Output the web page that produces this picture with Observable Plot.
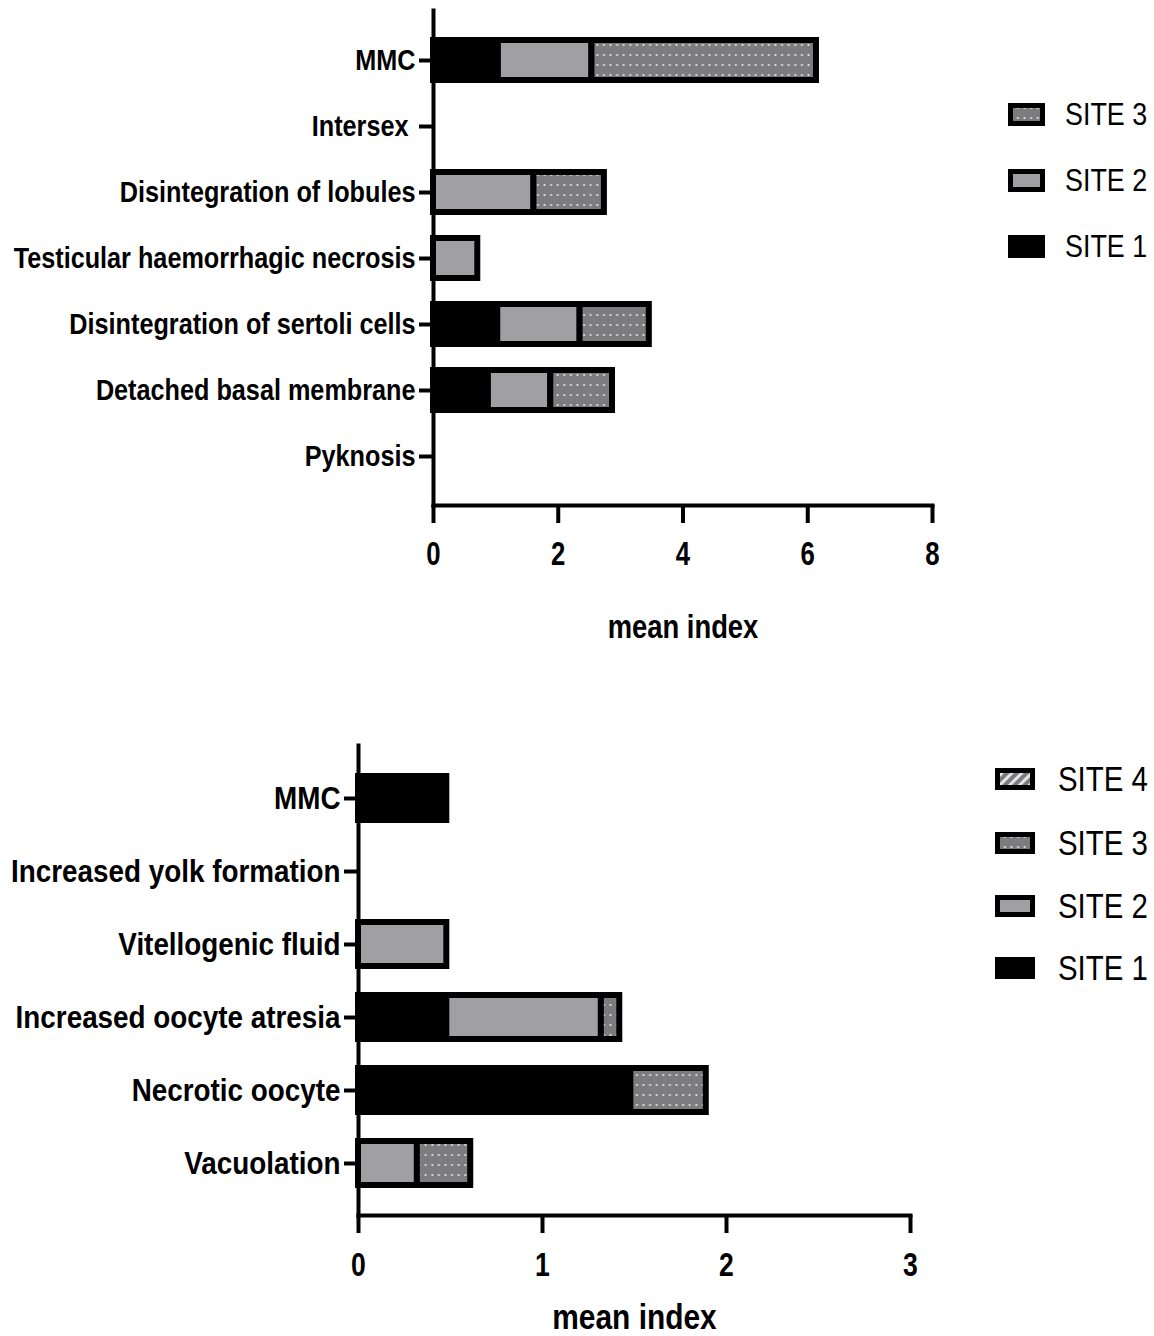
<!DOCTYPE html>
<html><head><meta charset="utf-8">
<script src="https://cdn.jsdelivr.net/npm/d3@7"></script>
<script src="https://cdn.jsdelivr.net/npm/@observablehq/plot@0.6"></script>
<style>
body{margin:0;background:#fff;}
#wrap{position:relative;width:1154px;height:1336px;overflow:hidden;font-family:"Liberation Sans",Arial,sans-serif;color:#000;}
.chart{position:absolute;left:0;}
.item{position:absolute;display:flex;align-items:center;height:40px;white-space:nowrap;}
.item span{display:inline-block;transform:scaleX(0.84);transform-origin:0 50%;}
</style></head><body><div id="wrap"></div>
<script>
// ---- data ----
const topCategories = ["MMC","Intersex","Disintegration of lobules","Testicular haemorrhagic necrosis","Disintegration of sertoli cells","Detached basal membrane","Pyknosis"];
const topSites = ["SITE 1","SITE 2","SITE 3"];
const topSite1 = [1.04, 0, 0, 0, 1.03, 0.88, 0];
const topSite2 = [1.50, 0, 1.61, 0.71, 1.32, 1.00, 0];
const topSite3 = [3.60, 0, 1.13, 0, 1.11, 0.99, 0];
const topTicks = [0, 2, 4, 6, 8];

const bottomCategories = ["MMC","Increased yolk formation","Vitellogenic fluid","Increased oocyte atresia","Necrotic oocyte","Vacuolation"];
const bottomSites = ["SITE 1","SITE 2","SITE 3","SITE 4"];
const bottomSite1 = [0.48, 0, 0, 0.48, 1.48, 0];
const bottomSite2 = [0, 0, 0.48, 0.84, 0, 0.32];
const bottomSite3 = [0, 0, 0, 0.10, 0.41, 0.29];
const bottomSite4 = [0, 0, 0, 0, 0, 0];
const bottomTicks = [0, 1, 2, 3];

const axisLabel = "mean index";

// ---- build tables ----
function table(cats, sites, series) {
  const rows = [];
  cats.forEach((c, i) => sites.forEach((s, j) => {
    const v = series[j][i];
    if (v > 0) rows.push({category: c, site: s, value: v});
  }));
  return rows;
}
const topData = table(topCategories, topSites, [topSite1, topSite2, topSite3]);
const bottomData = table(bottomCategories, bottomSites, [bottomSite1, bottomSite2, bottomSite3, bottomSite4]);

const FILLS = {"SITE 1": "#000000", "SITE 2": "#a0a0a3", "SITE 3": "url(#dots)", "SITE 4": "url(#hatch)"};

const wrap = document.getElementById("wrap");
wrap.insertAdjacentHTML("beforeend", `<svg width="0" height="0" style="position:absolute">
<defs>
<pattern id="dots" patternUnits="userSpaceOnUse" width="6.6" height="10">
<rect width="6.6" height="10" fill="#7c7c7e"/><circle cx="3.3" cy="5" r="1.1" fill="#e6e6e6"/></pattern>
<pattern id="hatch" patternUnits="userSpaceOnUse" width="7" height="7" patternTransform="rotate(45)">
<rect width="7" height="7" fill="#7c7c7e"/><rect width="3" height="7" fill="#e6e6e6"/></pattern>
</defs></svg>`);

// narrow the text horizontally (the original uses a condensed face)
function condense(svg, selector, s) {
  svg.querySelectorAll(selector).forEach(t => {
    const tr = t.getAttribute("transform");
    if (tr) t.setAttribute("transform", tr + ` scale(${s},1)`);
    else {
      const x = +(t.getAttribute("x") || 0);
      t.setAttribute("transform", `translate(${x},0) scale(${s},1) translate(${-x},0)`);
    }
  });
}

function chart({data, cats, sites, ticks, domain, top, height, marginTop, marginBottom, marginLeft, marginRight, labelOffset, yFont, xFont, labelFont, xPad}) {
  const p = Plot.plot({
    width: 1154, height, marginTop, marginBottom, marginLeft, marginRight,
    style: {fontFamily: "inherit", color: "#000", background: "transparent", overflow: "visible"},
    x: {domain, ticks},
    y: {domain: cats, padding: 0.4, label: null},
    color: {domain: sites, range: sites.map(s => FILLS[s])},
    marks: [
      Plot.barX(data, Plot.stackX({x: "value", y: "category", fill: "site", stroke: "#000", strokeWidth: 6, order: null})),
      Plot.axisY({tickSize: 14, tickPadding: 4, fontSize: yFont, fontWeight: "bold", strokeWidth: 4, label: null,
        tickFormat: d => d === "Intersex" ? "Intersex\u00a0" : d}),
      Plot.axisX({ticks, tickSize: 18, tickPadding: xPad, fontSize: xFont, fontWeight: "bold", strokeWidth: 4,
        tickFormat: d => String(d), label: null}),
      Plot.axisX({ticks: [], tickSize: 0, fontSize: labelFont, fontWeight: "bold",
        label: axisLabel, labelAnchor: "center", labelArrow: "none", labelOffset}),
      Plot.frame({anchor: "left", strokeWidth: 4}),
      Plot.frame({anchor: "bottom", strokeWidth: 4})
    ]
  });
  p.classList.add("chart");
  p.style.top = top + "px";
  wrap.appendChild(p);
  condense(p, 'g[aria-label="y-axis tick label"] text', 0.87);
  condense(p, 'g[aria-label="x-axis tick label"] text', 0.78);
  condense(p, 'g[aria-label="x-axis label"] text', 0.83);
}

chart({data: topData, cats: topCategories, sites: topSites, ticks: topTicks, domain: [0, 8],
  top: 0, height: 660, marginTop: 10, marginBottom: 155, marginLeft: 433, marginRight: 222, labelOffset: 132,
  yFont: 29, xFont: 33, labelFont: 33, xPad: 18});
chart({data: bottomData, cats: bottomCategories, sites: bottomSites, ticks: bottomTicks, domain: [0, 3],
  top: 660, height: 676, marginTop: 85, marginBottom: 121, marginLeft: 358, marginRight: 244, labelOffset: 113,
  yFont: 32, xFont: 34, labelFont: 36, xPad: 18});

function legend(sites, left, textLeft, ys, sw, sh, fs) {
  sites.slice().reverse().forEach((s, i) => {
    const d = document.createElement("div");
    d.className = "item";
    d.style.left = left + "px";
    d.style.top = (ys[i] - 20) + "px";
    d.style.fontSize = fs + "px";
    d.innerHTML = `<svg width="${sw}" height="${sh}" style="margin-right:${textLeft - left - sw}px"><rect x="2.5" y="2.5" width="${sw - 5}" height="${sh - 5}" fill="${FILLS[s]}" stroke="#000" stroke-width="5"/></svg><span>${s}</span>`;
    wrap.appendChild(d);
  });
}
legend(topSites, 1008, 1065, [114, 180, 246], 37, 23, 32);
legend(bottomSites, 995, 1058, [779, 843, 906, 968], 40, 22, 35);
</script></body></html>
